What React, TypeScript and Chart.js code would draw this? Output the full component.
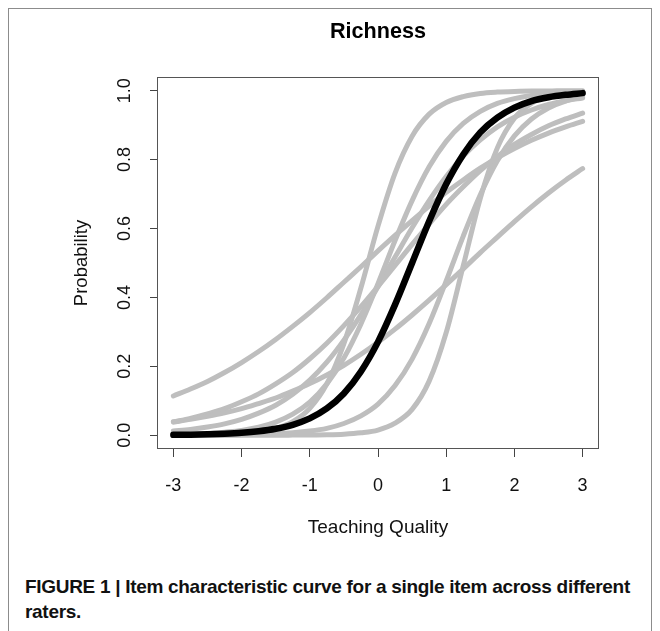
import React, { useEffect, useRef } from "react";
import { Chart, registerables } from "chart.js";

Chart.register(...registerables);

const TITLE = "Richness";
const X_LABEL = "Teaching Quality";
const Y_LABEL = "Probability";
const CAPTION_BOLD = "FIGURE 1 | Item characteristic curve for a single item across different raters.";

const X_TICKS = [-3, -2, -1, 0, 1, 2, 3];
const X_TICK_LABELS = ["-3", "-2", "-1", "0", "1", "2", "3"];
const Y_TICKS = [0, 0.2, 0.4, 0.6, 0.8, 1.0];
const Y_TICK_LABELS = ["0.0", "0.2", "0.4", "0.6", "0.8", "1.0"];

// ability (teaching quality) grid
const THETA = [-3, -2.75, -2.5, -2.25, -2, -1.75, -1.5, -1.25, -1, -0.75, -0.5, -0.25, 0, 0.25, 0.5, 0.75, 1, 1.25, 1.5, 1.75, 2, 2.25, 2.5, 2.75, 3];

// black curve (overall)
const OVERALL = [0.001, 0.0016, 0.0026, 0.0043, 0.007, 0.0115, 0.0187, 0.0303, 0.0488, 0.0776, 0.121, 0.185, 0.271, 0.379, 0.5, 0.621, 0.729, 0.815, 0.879, 0.922, 0.951, 0.97, 0.981, 0.988, 0.993];

// grey curves (raters)
const RATER_A = [0.114, 0.134, 0.156, 0.182, 0.211, 0.243, 0.278, 0.316, 0.356, 0.399, 0.444, 0.489, 0.535, 0.58, 0.623, 0.665, 0.705, 0.741, 0.775, 0.805, 0.832, 0.856, 0.877, 0.895, 0.911];
const RATER_B = [0.038, 0.046, 0.055, 0.065, 0.077, 0.092, 0.108, 0.128, 0.15, 0.175, 0.203, 0.235, 0.27, 0.308, 0.349, 0.392, 0.437, 0.483, 0.53, 0.575, 0.62, 0.663, 0.703, 0.74, 0.774];
const RATER_C = [0.039, 0.049, 0.062, 0.077, 0.097, 0.12, 0.149, 0.182, 0.222, 0.267, 0.318, 0.373, 0.432, 0.493, 0.554, 0.613, 0.67, 0.721, 0.768, 0.809, 0.844, 0.873, 0.898, 0.918, 0.935];
const RATER_D = [0.0003, 0.0005, 0.0011, 0.0023, 0.0047, 0.0096, 0.0195, 0.0395, 0.078, 0.149, 0.266, 0.428, 0.607, 0.761, 0.868, 0.932, 0.966, 0.983, 0.992, 0.996, 0.998, 0.999, 0.999, 1.0, 1.0];
const RATER_E = [0.002, 0.003, 0.005, 0.009, 0.014, 0.023, 0.038, 0.061, 0.096, 0.149, 0.224, 0.323, 0.44, 0.565, 0.681, 0.779, 0.853, 0.905, 0.94, 0.963, 0.977, 0.986, 0.991, 0.995, 0.997];
const RATER_F = [0.012, 0.017, 0.024, 0.033, 0.046, 0.064, 0.087, 0.119, 0.16, 0.212, 0.276, 0.35, 0.431, 0.517, 0.602, 0.681, 0.751, 0.81, 0.857, 0.895, 0.923, 0.944, 0.96, 0.971, 0.979];
const RATER_G = [0, 0, 0, 0, 0, 0.0001, 0.0001, 0.0003, 0.0006, 0.0013, 0.003, 0.007, 0.015, 0.035, 0.075, 0.157, 0.298, 0.492, 0.688, 0.834, 0.92, 0.963, 0.984, 0.993, 0.997];
const RATER_H = [0.0002, 0.0003, 0.0005, 0.0009, 0.0015, 0.0025, 0.0042, 0.0071, 0.012, 0.02, 0.034, 0.056, 0.09, 0.144, 0.221, 0.324, 0.448, 0.578, 0.698, 0.797, 0.869, 0.918, 0.95, 0.97, 0.982];

const RATERS = [RATER_A, RATER_B, RATER_C, RATER_D, RATER_E, RATER_F, RATER_G, RATER_H];

const FONT = "'Liberation Sans', Arial, Helvetica, sans-serif";

const framePlugin = {
  id: "rframe",
  afterDraw(chart: any) {
    const { ctx, chartArea, scales } = chart;
    const { left, top, right, bottom } = chartArea;
    ctx.save();
    ctx.strokeStyle = "#555";
    ctx.lineWidth = 1;
    const l = Math.round(left) + 0.5;
    const t = Math.round(top) + 0.5;
    const r = Math.round(right) - 0.5;
    const b = Math.round(bottom) - 0.5;
    ctx.strokeRect(l, t, r - l, b - t);
    ctx.fillStyle = "#111";
    ctx.font = `18px ${FONT}`;
    ctx.textAlign = "center";
    ctx.textBaseline = "alphabetic";
    Y_TICKS.forEach((v, i) => {
      const py = scales.y.getPixelForValue(v);
      ctx.save();
      ctx.translate(left - 27, py);
      ctx.rotate(-Math.PI / 2);
      ctx.fillText(Y_TICK_LABELS[i], 0, 0);
      ctx.restore();
    });
    ctx.restore();
  },
};

export default function App() {
  const ref = useRef<HTMLCanvasElement | null>(null);

  useEffect(() => {
    if (!ref.current) return;
    const toPts = (arr: number[]) => THETA.map((x, i) => ({ x, y: arr[i] }));
    const datasets: any[] = [
      {
        label: "overall",
        data: toPts(OVERALL),
        borderColor: "#000000",
        borderWidth: 6.5,
        pointRadius: 0,
        cubicInterpolationMode: "monotone",
        borderCapStyle: "round",
        borderJoinStyle: "round",
        fill: false,
      },
      ...RATERS.map((r, k) => ({
        label: "rater " + (k + 1),
        data: toPts(r),
        borderColor: "#BEBEBE",
        borderWidth: 5,
        pointRadius: 0,
        cubicInterpolationMode: "monotone",
        borderCapStyle: "round",
        borderJoinStyle: "round",
        fill: false,
      })),
    ];

    const chart = new Chart(ref.current, {
      type: "line",
      data: { datasets },
      options: {
        animation: false,
        responsive: false,
        devicePixelRatio: 1,
        layout: { padding: { left: 0, top: 0, right: 61, bottom: 0 } },
        font: { family: FONT },
        plugins: {
          legend: { display: false },
          tooltip: { enabled: false },
          title: {
            display: true,
            text: TITLE,
            fullSize: false,
            color: "#000",
            font: { family: FONT, size: 21.6, weight: "bold" },
            padding: { top: 19, bottom: 32 },
          },
        },
        scales: {
          x: {
            type: "linear",
            min: -3.24,
            max: 3.24,
            afterBuildTicks: (s: any) => {
              s.ticks = X_TICKS.map((v) => ({ value: v }));
            },
            afterFit: (s: any) => {
              s.height = 111;
            },
            ticks: {
              autoSkip: false,
              maxRotation: 0,
              minRotation: 0,
              padding: 18,
              color: "#111",
              font: { family: FONT, size: 18 },
              callback: (_v: any, i: number) => X_TICK_LABELS[i],
            },
            grid: { drawOnChartArea: false, drawTicks: true, tickLength: 8, color: "#444", lineWidth: 1 },
            border: { display: false },
            title: {
              display: true,
              text: X_LABEL,
              color: "#111",
              font: { family: FONT, size: 19 },
              padding: { top: 0, bottom: 21 },
            },
          },
          y: {
            type: "linear",
            min: -0.04,
            max: 1.04,
            afterBuildTicks: (s: any) => {
              s.ticks = Y_TICKS.map((v) => ({ value: v }));
            },
            afterFit: (s: any) => {
              s.width = 157;
            },
            ticks: { display: false },
            grid: { drawOnChartArea: false, drawTicks: true, tickLength: 7, color: "#444", lineWidth: 1 },
            border: { display: false },
            title: {
              display: true,
              text: Y_LABEL,
              color: "#111",
              font: { family: FONT, size: 18.5 },
              padding: { top: 71, bottom: 0 },
            },
          },
        },
      } as any,
      plugins: [framePlugin],
    });
    return () => chart.destroy();
  }, []);

  return (
    <div style={{ position: "absolute", left: 0, top: 0, width: 660, height: 631, background: "#fff", overflow: "hidden" }}>
      <div
        style={{
          position: "absolute",
          left: 8,
          top: 8,
          width: 644,
          height: 623,
          boxSizing: "border-box",
          borderTop: "1px solid #8c8c8c",
          borderLeft: "1px solid #8c8c8c",
          borderRight: "1px solid #8c8c8c",
        }}
      />
      <canvas ref={ref} width={660} height={560} style={{ position: "absolute", left: 0, top: 0, width: 660, height: 560 }} />
      <div
        style={{
          position: "absolute",
          left: 25,
          top: 574,
          width: 620,
          fontFamily: FONT,
          fontWeight: "bold",
          fontSize: 19,
          letterSpacing: "-0.3px",
          lineHeight: "25px",
          color: "#111",
        }}
      >
        {CAPTION_BOLD}
      </div>
    </div>
  );
}
